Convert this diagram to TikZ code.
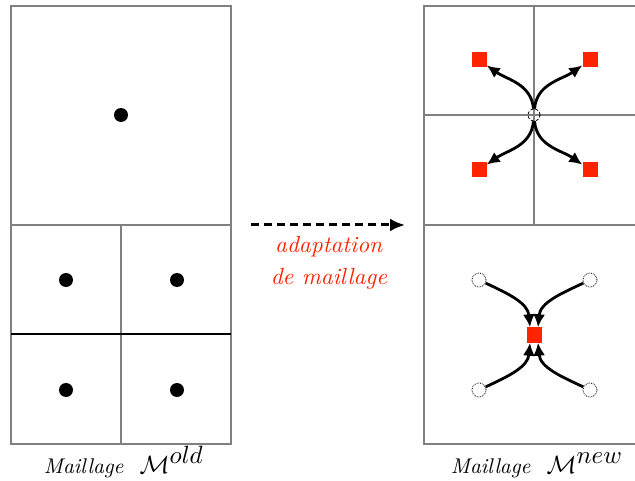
\documentclass[tikz,border=0pt]{standalone}
\usetikzlibrary{arrows.meta}
\definecolor{mred}{RGB}{255,35,0}
\definecolor{mgray}{RGB}{128,128,128}
\tikzset{
  grid/.style={draw=mgray, line width=1.8pt},
  dot/.style={circle, fill=black, inner sep=0pt, minimum size=14pt},
  sq/.style={rectangle, fill=mred, inner sep=0pt, minimum size=15pt},
  ghost/.style={circle, draw=black, densely dotted, line width=0.8pt, inner sep=0pt, minimum size=14pt},
  ghostc/.style={circle, draw=black, densely dashed, line width=0.8pt, inner sep=0pt, minimum size=12pt},
  carrow/.style={-{Latex[length=13pt,width=12pt]}, line width=2.8pt, black},
  lbl/.style={inner sep=0pt, anchor=base},
}
\newcommand{\mlabel}[1]{\scalebox{2.13}{\textit{Maillage}}\hspace{16pt}\scalebox{2.5}{$\mathcal{M}^{\textstyle #1}$}}
\newcommand{\redtxt}[1]{\scalebox{2.33}{\textit{#1}}}
\begin{document}
\begin{tikzpicture}[x=1pt,y=-1pt]
\useasboundingbox (0,0) rectangle (635,481);
\clip (0,0) rectangle (635,481);
% left mesh
\draw[grid] (11,6) rectangle (231,444);
\draw[grid] (11,225) -- (231,225);
\draw[grid] (121,225) -- (121,444);
\draw[black, line width=1.6pt] (11,334) -- (231,334);
\node[dot] (d0) at (121,115) {};
\node[dot] (d1) at (66,280) {};
\node[dot] (d2) at (177,280) {};
\node[dot] (d3) at (66,390) {};
\node[dot] (d4) at (177,390) {};
\node[lbl] (lo) at (124,473) {\mlabel{old}};
% arrow
\coordinate (as) at (251,225);
\coordinate (ae) at (405,225);
\draw[-{Latex[length=15pt,width=13pt]}, line width=3pt, dash pattern=on 8pt off 5pt] (as) -- (ae);
\node[lbl, text=mred] (t1) at (329,253) {\redtxt{adaptation}};
\node[lbl, text=mred] (t2) at (329,285) {\redtxt{de maillage}};
% right mesh
\draw[grid] (424,6) rectangle (644,444);
\draw[grid] (424,225) -- (644,225);
\draw[grid] (424,115) -- (644,115);
\draw[grid] (534,6) -- (534,225);
\node[ghostc] (c) at (534,115) {};
\node[sq] (s1) at (479,60) {};
\node[sq] (s2) at (590,60) {};
\node[sq] (s3) at (479,170) {};
\node[sq] (s4) at (590,170) {};
\draw[carrow] (c) to[out=95, in=-35] (s1);
\draw[carrow] (c) to[out=85, in=215] (s2);
\draw[carrow] (c) to[out=-95, in=35] (s3);
\draw[carrow] (c) to[out=-85, in=145] (s4);
\node[sq] (s0) at (534,335) {};
\node[ghost] (g1) at (479,280) {};
\node[ghost] (g2) at (590,280) {};
\node[ghost] (g3) at (479,390) {};
\node[ghost] (g4) at (590,390) {};
\draw[carrow] (g1) to[out=-25, in=95] ([xshift=-4pt]s0.north);
\draw[carrow] (g2) to[out=205, in=85] ([xshift=4pt]s0.north);
\draw[carrow] (g3) to[out=25, in=-95] ([xshift=-4pt]s0.south);
\draw[carrow] (g4) to[out=155, in=-85] ([xshift=4pt]s0.south);
\node[lbl] (ln) at (537,473) {\mlabel{new}};
\end{tikzpicture}
\end{document}
